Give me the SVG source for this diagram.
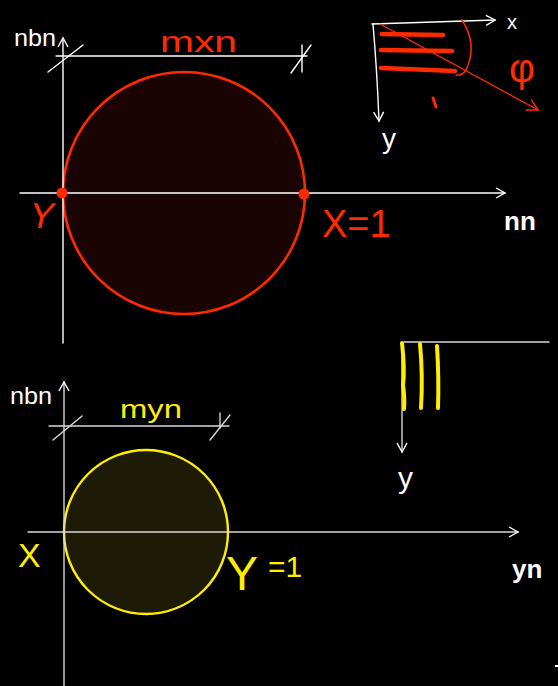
<svg xmlns="http://www.w3.org/2000/svg" width="558" height="686" viewBox="0 0 558 686">
<defs>
<style>
.ax{stroke:#ffffff;stroke-width:1.4;fill:none;stroke-linecap:round}
.axg{stroke:#d8d8d8;stroke-width:1.4;fill:none;stroke-linecap:round}
.red{stroke:#ff2a00;fill:none;stroke-linecap:round;stroke-linejoin:round}
.yel{stroke:#ffee00;fill:none;stroke-linecap:round;stroke-linejoin:round}
.tw{fill:#ffffff;font-family:"Liberation Sans",Arial,sans-serif}
.tr{fill:#ff2a00;font-family:"Liberation Sans",Arial,sans-serif}
.ty{fill:#ffee00;font-family:"Liberation Sans",Arial,sans-serif}
</style>
<marker id="ah" viewBox="0 0 12 12" refX="10" refY="6" markerWidth="12" markerHeight="12" markerUnits="userSpaceOnUse" orient="auto">
<path d="M1,1 L10,6 L1,11" fill="none" stroke="#ffffff" stroke-width="1.4"/>
</marker>
<marker id="ahr" viewBox="0 0 14 14" refX="12" refY="7" markerWidth="14" markerHeight="14" markerUnits="userSpaceOnUse" orient="auto">
<path d="M1,1 L12,7 L1,13" fill="none" stroke="#ff2a00" stroke-width="1.4"/>
</marker>
</defs>
<rect width="558" height="686" fill="#000000"/>

<!-- Top section -->
<g id="top-circle">
<circle cx="184" cy="193" r="121" fill="#1a0303" stroke="#ff2a00" stroke-width="2.6"/>
</g>
<g id="top-axes">
<line class="ax" x1="63" y1="343" x2="63" y2="38" marker-end="url(#ah)"/>
<line class="ax" x1="20" y1="193" x2="505" y2="193" marker-end="url(#ah)"/>
<line class="ax" x1="56" y1="56" x2="307" y2="56"/>
<line class="ax" x1="48" y1="72" x2="83" y2="45"/>
<line class="ax" x1="291" y1="73" x2="311" y2="45"/>
<line class="ax" x1="302" y1="45" x2="302" y2="72"/>
</g>
<g id="top-points">
<circle cx="62" cy="193" r="5.5" fill="#ff2a00"/>
<circle cx="304" cy="194" r="5.5" fill="#ff2a00"/>
</g>
<g id="top-labels">
<text class="tw" x="14" y="46" font-size="24" textLength="42" lengthAdjust="spacingAndGlyphs">nbn</text>
<text class="tr" x="160" y="52" font-size="30" textLength="77" lengthAdjust="spacingAndGlyphs">mxn</text>
<text class="tr" x="30" y="228" font-size="36" transform="skewX(-12)" dx="46">Y</text>
<text class="tr" x="322" y="237" font-size="38">X=1</text>
<text class="tw" x="504" y="230" font-size="26" font-weight="bold">nn</text>
</g>

<!-- Top-right sketch -->
<g id="top-right-sketch">
<path class="ax" d="M372,24 L495,20" marker-end="url(#ah)"/>
<path class="ax" d="M373,24 Q377,70 379,121" marker-end="url(#ah)"/>
<path class="red" stroke-width="4.5" d="M382,34 L443,35"/>
<path class="red" stroke-width="4.5" d="M381,50 L452,51"/>
<path class="red" stroke-width="4.5" d="M381,68 L455,71"/>
<path class="red" stroke-width="1.5" d="M462,20 Q478,45 466,70 Q462,76 456,75"/>
<path class="red" stroke-width="1.3" d="M380,24 L538,110" marker-end="url(#ahr)"/>
<path class="red" stroke-width="3" d="M433,98 L436,107"/>
<text class="tw" x="507" y="29" font-size="20">x</text>
<text class="tw" x="382" y="148" font-size="28">y</text>
<text class="tr" x="509" y="82" font-size="40">φ</text>
</g>

<!-- Bottom section -->
<g id="bottom-circle">
<circle cx="146" cy="532" r="82" fill="#1d1b05" stroke="#ffee00" stroke-width="2.4"/>
</g>
<g id="bottom-axes">
<line class="axg" x1="64" y1="686" x2="64" y2="382" marker-end="url(#ah)"/>
<line class="axg" x1="28" y1="532" x2="518" y2="532" marker-end="url(#ah)"/>
<line class="axg" x1="49" y1="426" x2="229" y2="426"/>
<line class="axg" x1="53" y1="440" x2="82" y2="416"/>
<line class="axg" x1="210" y1="440" x2="230" y2="415"/>
<line class="axg" x1="220" y1="413" x2="220" y2="428"/>
</g>
<g id="bottom-labels">
<text class="tw" x="10" y="404" font-size="24" textLength="42" lengthAdjust="spacingAndGlyphs">nbn</text>
<text class="ty" x="120" y="418" font-size="26" textLength="62" lengthAdjust="spacingAndGlyphs">myn</text>
<text class="ty" x="18" y="567" font-size="34">X</text>
<text class="ty" x="226" y="590" font-size="48">Y</text>
<text class="ty" x="268" y="577" font-size="30">=1</text>
<text class="tw" x="512" y="578" font-size="26" font-weight="bold">yn</text>
</g>

<!-- Bottom-right sketch -->
<g id="bottom-right-sketch">
<line class="axg" x1="404" y1="342" x2="549" y2="342"/>
<line class="axg" x1="402" y1="343" x2="402" y2="452" marker-end="url(#ah)"/>
<path class="yel" stroke-width="4" d="M402,343 Q405,370 403,385 Q405,400 404,409"/>
<path class="yel" stroke-width="4" d="M420,344 Q423,375 421,408"/>
<path class="yel" stroke-width="4" d="M437,346 Q439,378 438,408"/>
<text class="tw" x="398" y="488" font-size="30">y</text>
</g>
<line x1="555" y1="666" x2="558" y2="666" stroke="#ffffff" stroke-width="2"/>
</svg>
